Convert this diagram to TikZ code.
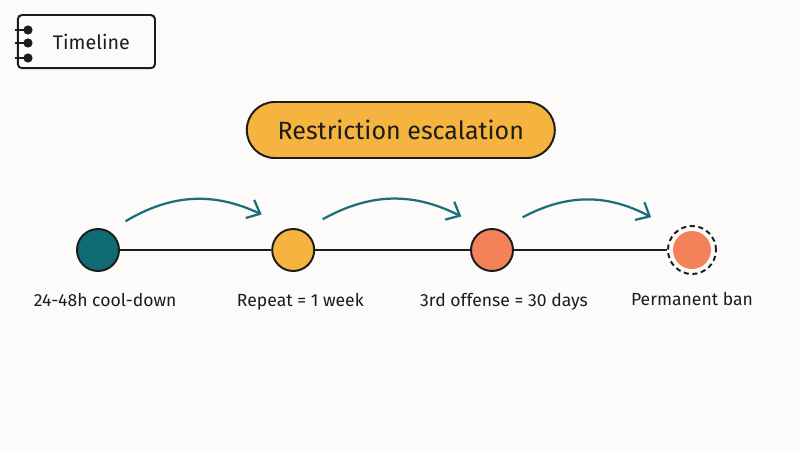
\documentclass[tikz,border=0pt]{standalone}
\usepackage{fontspec}
\setmainfont{Fira Sans}
\usepackage{xcolor}
\usepackage{tikz}
\usetikzlibrary{positioning, arrows.meta}
\definecolor{paper}{RGB}{253,251,249}
\definecolor{inkdark}{RGB}{28,28,28}
\definecolor{tealdot}{RGB}{14,107,115}
\definecolor{tealarrow}{RGB}{27,111,123}
\definecolor{ambercap}{RGB}{245,180,63}
\definecolor{salmondot}{RGB}{243,130,90}

\begin{document}
\begin{tikzpicture}[node distance=0.4cm,
  dot/.style={circle, draw=inkdark, line width=1.4pt, minimum size=1.05cm, inner sep=0pt},
  lbl/.style={font=\fontsize{12.5}{14}\selectfont, text=inkdark},
  jump/.style={-{Straight Barb[length=2.8mm, width=5mm]}, line width=1.6pt, color=tealarrow},
  ring/.style={circle, fill=inkdark, minimum size=2.3mm, inner sep=0pt}]

  \fill[paper] (0,0) rectangle (20,11.25);
  \useasboundingbox (0,0) rectangle (20,11.25);

  %% tag in the corner
  \node[draw=inkdark, line width=1.4pt, rounded corners=3pt, minimum width=3.43cm,
        minimum height=1.33cm, font=\fontsize{14}{16}\selectfont, text=inkdark] (tag) at (2.16,10.21) {\hspace{2.5mm}Timeline};
  \foreach \y [count=\i] in {10.5,10.175,9.8} {
    \node[ring] (h\i) at (0.7,\y) {};
    \draw[line width=1.3pt, inkdark] (h\i.center) -- ++(-0.33,0);
  }

  %% heading
  \node[draw=inkdark, fill=ambercap, line width=1.4pt, rounded corners=0.7cm, minimum width=7.7cm,
        minimum height=1.4cm, font=\fontsize{17.8}{20}\selectfont, text=inkdark] (head) at (10.02,8.0) {Restriction escalation};

  %% stages
  \node[dot, fill=tealdot]   (c1) at (2.45,5.0)  {};
  \node[dot, fill=ambercap]  (c2) at (7.33,5.0)  {};
  \node[dot, fill=salmondot] (c3) at (12.3,5.0)  {};
  \node[circle, draw=inkdark, dash pattern=on 3.6pt off 2.6pt, line width=1.4pt,
        minimum size=1.2cm, inner sep=0pt] (c4) at (17.3,5.0) {};
  \node[circle, fill=salmondot, minimum size=0.95cm, inner sep=0pt] (c4in) at (c4) {};

  \draw[line width=1.2pt, inkdark] (c1) -- (c2);
  \draw[line width=1.2pt, inkdark] (c2) -- (c3);
  \draw[line width=1.2pt, inkdark] (c3) -- (c4);

  %% labels
  \node[lbl, below=0.4cm of c1, xshift=0.18cm] (t1) {24-48h cool-down};
  \node[lbl, below=0.4cm of c2, xshift=0.18cm] (t2) {Repeat = 1 week};
  \node[lbl, below=0.4cm of c3, xshift=0.3cm]  (t3) {3rd offense = 30 days};
  \node[lbl, below=0.32cm of c4] (t4) {Permanent ban};

  %% escalation arrows
  \draw[jump] ([shift={(0.3,0.33)}]c1.north east) to[bend left=28] ([shift={(-0.4,0.5)}]c2.north west);
  \draw[jump] ([shift={(0.35,0.38)}]c2.north east) to[bend left=28] ([shift={(-0.38,0.45)}]c3.north west);
  \draw[jump] ([shift={(0.38,0.43)}]c3.north east) to[bend left=28] ([shift={(-0.58,0.38)}]c4.north west);
\end{tikzpicture}
\end{document}
